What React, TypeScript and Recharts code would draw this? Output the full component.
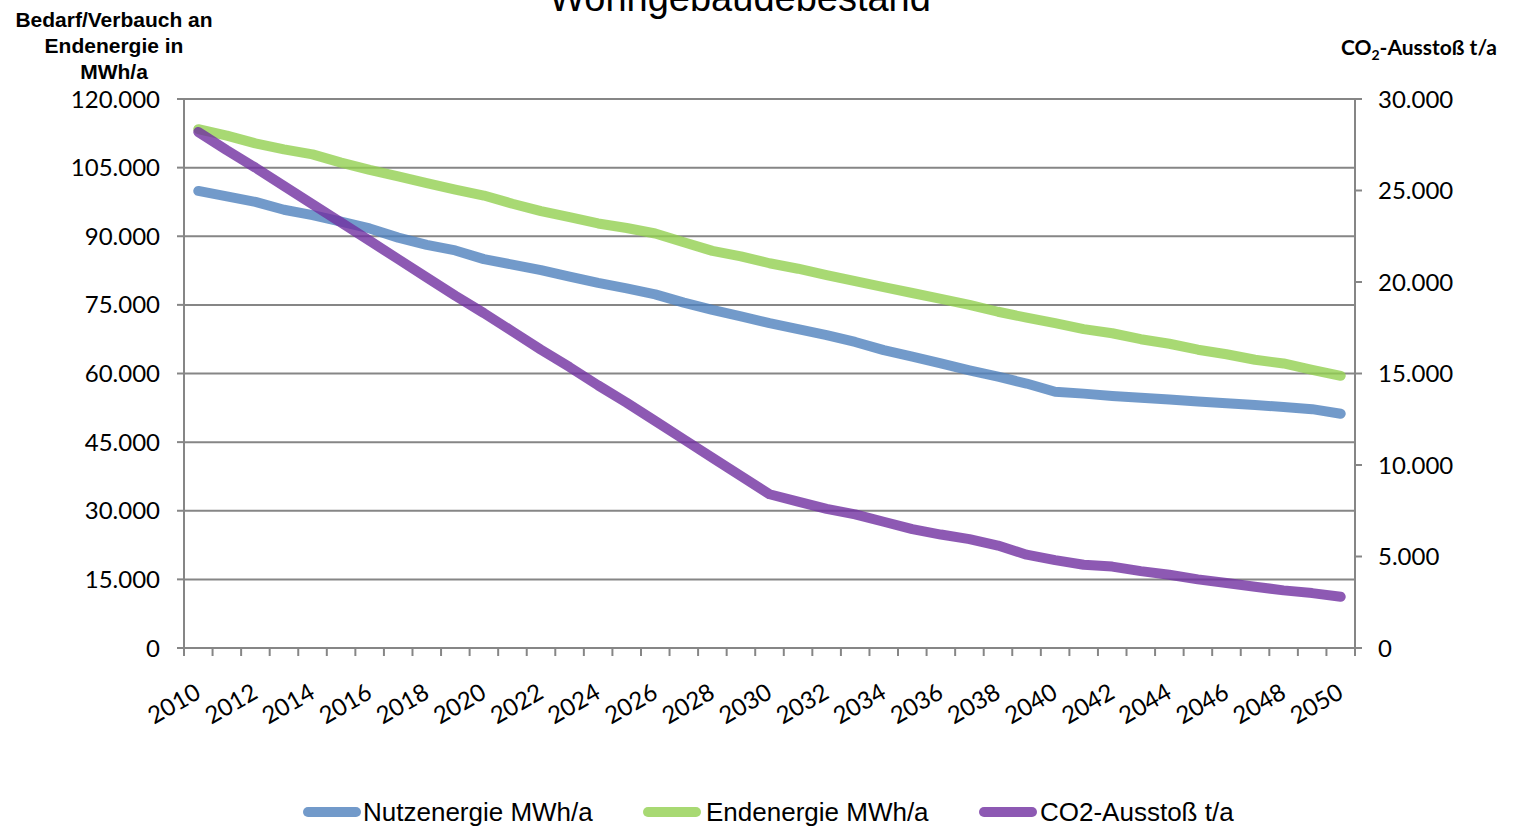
import React from 'react';
import { LineChart, Line, XAxis, YAxis, CartesianGrid } from 'recharts';

const YEARS = [
  2010, 2011, 2012, 2013, 2014, 2015, 2016, 2017, 2018, 2019,
  2020, 2021, 2022, 2023, 2024, 2025, 2026, 2027, 2028, 2029,
  2030, 2031, 2032, 2033, 2034, 2035, 2036, 2037, 2038, 2039,
  2040, 2041, 2042, 2043, 2044, 2045, 2046, 2047, 2048, 2049, 2050,
];

// MWh/a
const NUTZENERGIE = [
  99900, 98700, 97500, 95800, 94600, 93200, 91700, 89700, 88100, 86900,
  85000, 83800, 82600, 81200, 79800, 78600, 77300, 75500, 73900, 72500,
  71000, 69700, 68400, 66900, 65100, 63700, 62200, 60700, 59300, 57800,
  56000, 55600, 55100, 54700, 54300, 53900, 53500, 53100, 52700, 52200, 51200,
];

// MWh/a
const ENDENERGIE = [
  113400, 112000, 110300, 109000, 107900, 106100, 104500, 103100, 101600, 100200,
  98900, 97100, 95500, 94200, 92800, 91800, 90600, 88700, 86800, 85600,
  84100, 82900, 81500, 80200, 78900, 77600, 76300, 75000, 73500, 72200,
  71000, 69700, 68800, 67500, 66500, 65200, 64200, 63000, 62200, 60800, 59500,
];

// t/a, rechte Achse
const CO2 = [
  28200, 27200, 26250, 25250, 24250, 23250, 22250, 21250, 20250, 19250,
  18300, 17300, 16300, 15350, 14350, 13400, 12400, 11400, 10400, 9400,
  8400, 8000, 7600, 7300, 6900, 6500, 6200, 5950, 5600, 5100,
  4800, 4550, 4450, 4200, 4000, 3750, 3550, 3350, 3150, 3000, 2800,
];

const LEFT_TICKS = [0, 15000, 30000, 45000, 60000, 75000, 90000, 105000, 120000];
const RIGHT_TICKS = [0, 5000, 10000, 15000, 20000, 25000, 30000];

const SERIES = [
  { key: 'nutz', name: 'Nutzenergie  MWh/a', color: '#4F81BD', axis: 'left' },
  { key: 'end', name: 'Endenergie MWh/a', color: '#92D050', axis: 'left' },
  { key: 'co2', name: 'CO2-Ausstoß t/a', color: '#7030A0', axis: 'right' },
];

const data = YEARS.map((year, i) => ({
  year,
  nutz: NUTZENERGIE[i],
  end: ENDENERGIE[i],
  co2: CO2[i],
}));

const W = 1514;
const H = 828;
const PLOT_W = 1171;
const STEP = PLOT_W / YEARS.length;
const AXIS = '#868686';
const TICK_FONT = { fill: '#000', fontSize: 24, fontFamily: 'Lato' };

const fmt = (v: number) => String(v).replace(/\B(?=(\d{3})+(?!\d))/g, '.');

function YearTick(props: any) {
  const { x, y, payload, index } = props;
  const year = payload.value;
  const tx = x + 4;
  const ty = y + 49;
  return (
    <g>
      <line x1={x - STEP / 2} x2={x - STEP / 2} y1={y} y2={y + 8} stroke={AXIS} strokeWidth={2} />
      {index === YEARS.length - 1 && (
        <line x1={x + STEP / 2} x2={x + STEP / 2} y1={y} y2={y + 8} stroke={AXIS} strokeWidth={2} />
      )}
      {year % 2 === 0 && (
        <text
          x={tx}
          y={ty}
          textAnchor="end"
          transform={`rotate(-30, ${tx}, ${ty})`}
          {...TICK_FONT}
        >
          {year}
        </text>
      )}
    </g>
  );
}

const legendPos = [
  { icon: 308, text: 363 },
  { icon: 648, text: 706 },
  { icon: 984, text: 1040 },
];

export default function App() {
  return (
    <div style={{ position: 'absolute', left: 0, top: 0, width: W, height: H, overflow: 'hidden', background: '#fff' }}>
      <LineChart
        width={W}
        height={H}
        data={data}
        margin={{ top: 99, left: 94, right: 69, bottom: 0 }}
      >
        <CartesianGrid yAxisId="left" vertical={false} stroke={AXIS} strokeWidth={2} />
        <XAxis
          dataKey="year"
          type="number"
          domain={[2009.5, 2050.5]}
          ticks={YEARS}
          interval={0}
          height={180}
          tickSize={0}
          tickMargin={0}
          tickLine={false}
          axisLine={{ stroke: AXIS, strokeWidth: 2 }}
          tick={<YearTick />}
        />
        <YAxis
          yAxisId="left"
          orientation="left"
          width={90}
          domain={[0, 120000]}
          ticks={LEFT_TICKS}
          interval={0}
          tickFormatter={fmt}
          tickSize={7}
          tickMargin={17}
          axisLine={{ stroke: AXIS, strokeWidth: 2 }}
          tickLine={{ stroke: AXIS, strokeWidth: 2 }}
          tick={TICK_FONT}
        />
        <YAxis
          yAxisId="right"
          orientation="right"
          width={90}
          domain={[0, 30000]}
          ticks={RIGHT_TICKS}
          interval={0}
          tickFormatter={fmt}
          tickSize={7}
          tickMargin={16}
          axisLine={{ stroke: AXIS, strokeWidth: 2 }}
          tickLine={{ stroke: AXIS, strokeWidth: 2 }}
          tick={TICK_FONT}
        />
        {SERIES.map((s) => (
          <Line
            key={s.key}
            yAxisId={s.axis}
            dataKey={s.key}
            name={s.name}
            type="linear"
            stroke={s.color}
            strokeOpacity={0.8}
            strokeWidth={10}
            strokeLinecap="round"
            strokeLinejoin="round"
            dot={false}
            activeDot={false}
            isAnimationActive={false}
          />
        ))}
      </LineChart>

      <svg width={W} height={H} style={{ position: 'absolute', left: 0, top: 0, pointerEvents: 'none' }}>
        <text x={740} y={11} textAnchor="middle" fontFamily="Liberation Sans, Arial" fontSize={38} fill="#000">
          Wohngebäudebestand
        </text>
        <g fontFamily="Liberation Sans, Arial" fontWeight="bold" fontSize={21} fill="#000" textAnchor="middle">
          <text x={114} y={27}>Bedarf/Verbauch an</text>
          <text x={114} y={53}>Endenergie in</text>
          <text x={114} y={79}>MWh/a</text>
        </g>
        <text x={1497} y={55} textAnchor="end" fontFamily="Lato" fontWeight="bold" fontSize={21} fill="#000">
          CO<tspan fontSize={14} dy={5}>2</tspan>
          <tspan dy={-5}>-Ausstoß t/a</tspan>
        </text>
        {SERIES.map((s, i) => (
          <g key={s.key}>
            <line
              x1={legendPos[i].icon}
              x2={legendPos[i].icon + 48}
              y1={812}
              y2={812}
              stroke={s.color}
              strokeOpacity={0.8}
              strokeWidth={10}
              strokeLinecap="round"
            />
            <text x={legendPos[i].text} y={821} fontFamily="Liberation Sans, Arial" fontSize={26} fill="#000">
              {s.name}
            </text>
          </g>
        ))}
      </svg>
    </div>
  );
}
